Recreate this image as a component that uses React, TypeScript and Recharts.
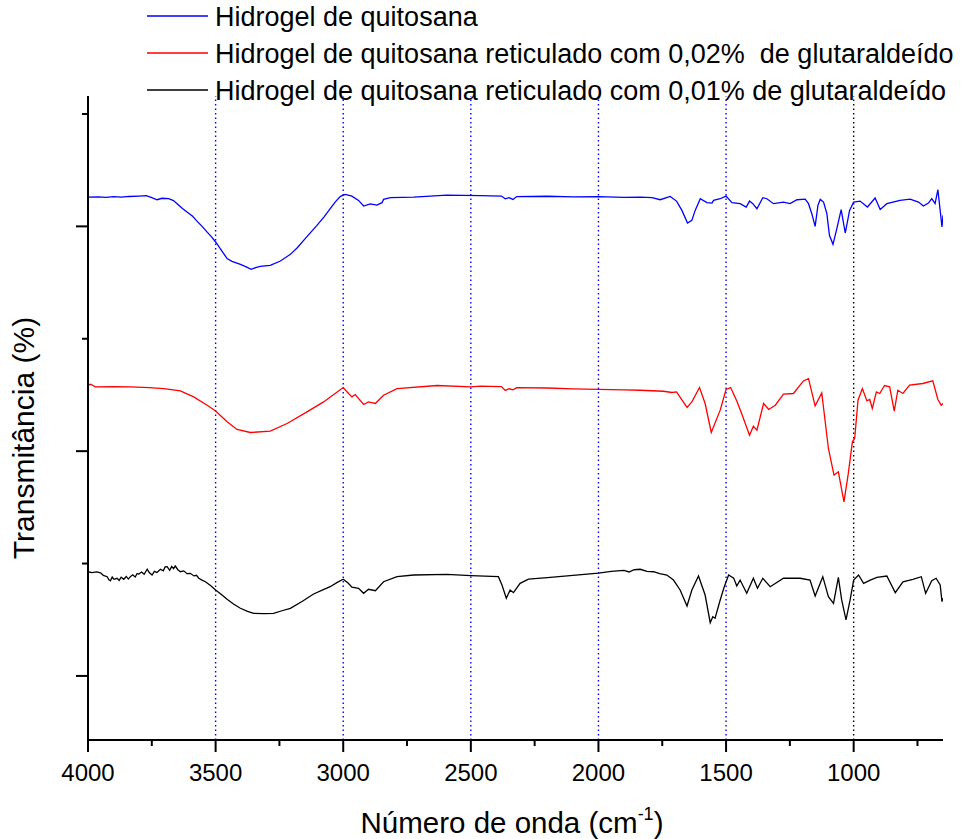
import { Line, LineChart, ReferenceLine, XAxis, YAxis } from "recharts";

// FTIR spectra (arbitrary offset transmittance)
const seriesNames = [
  "Hidrogel de quitosana",
  "Hidrogel de quitosana reticulado com 0,02%  de glutaraldeído",
  "Hidrogel de quitosana reticulado com 0,01% de glutaraldeído",
];
const seriesColors = ["#0000ff", "#ff0000", "#000000"];

const blueWn = [
  4000, 3960, 3930, 3900, 3870, 3840, 3800, 3772, 3750, 3729, 3710, 3684, 3665, 3651, 3630, 3612, 3590, 3573, 3553,
  3533, 3515, 3500, 3475, 3455, 3436, 3403, 3380, 3361, 3340, 3325, 3286, 3246, 3207, 3180, 3155, 3130, 3103, 3075,
  3051, 3030, 3011, 2992, 2966, 2940, 2920, 2894, 2868, 2848, 2842, 2815, 2724, 2594, 2463, 2380, 2365, 2350, 2335,
  2320, 2200, 2100, 2000, 1900, 1836, 1790, 1758, 1719, 1694, 1673, 1651, 1634, 1621, 1601, 1575, 1555, 1549, 1523,
  1500, 1477, 1445, 1421, 1408, 1395, 1379, 1356, 1340, 1314, 1275, 1249, 1222, 1190, 1177, 1164, 1151, 1140, 1131,
  1118, 1105, 1095, 1081, 1066, 1049, 1033, 1016, 1000, 975, 946, 916, 896, 870, 818, 779, 746, 727, 707, 694, 681,
  670, 664, 654, 650,
];
const blueT = [
  52.61, 52.63, 52.58, 52.65, 52.6, 52.66, 52.7, 52.73, 52.55, 52.37, 52.5, 52.46, 52.3, 52.02, 51.6, 51.27, 50.9,
  50.47, 50.0, 49.49, 49.05, 48.61, 47.8, 47.13, 46.89, 46.62, 46.4, 46.18, 46.35, 46.45, 46.53, 46.92, 47.51, 48.1,
  48.76, 49.4, 50.09, 50.85, 51.57, 52.2, 52.67, 52.85, 52.69, 52.31, 51.81, 52.0, 51.89, 52.11, 52.4, 52.55, 52.61,
  52.78, 52.73, 52.7, 52.45, 52.55, 52.4, 52.65, 52.68, 52.62, 52.65, 52.58, 52.61, 52.55, 52.37, 52.67, 52.25, 51.42,
  50.29, 50.53, 51.42, 52.46, 52.11, 52.07, 52.31, 52.46, 52.69, 52.11, 52.02, 51.72, 52.25, 52.02, 51.57, 52.55,
  52.46, 52.02, 52.16, 52.02, 52.37, 52.43, 52.02, 51.13, 50.0, 51.87, 52.4, 52.16, 51.13, 49.2, 48.4, 49.8, 51.49,
  49.41, 51.42, 52.16, 52.25, 51.72, 52.52, 51.51, 52.02, 52.31, 52.43, 52.16, 51.81, 52.07, 52.46, 52.02, 53.26,
  52.02, 49.94, 50.98,
];

const redWn = [
  4000, 3990, 3971, 3900, 3834, 3760, 3703, 3638, 3586, 3533, 3500, 3455, 3416, 3364, 3286, 3220, 3142, 3077, 3000,
  2979, 2966, 2953, 2920, 2901, 2874, 2842, 2789, 2632, 2500, 2463, 2380, 2365, 2350, 2335, 2320, 2200, 2100, 2000,
  1900, 1836, 1745, 1712, 1694, 1653, 1634, 1604, 1582, 1558, 1523, 1500, 1482, 1458, 1439, 1408, 1393, 1379, 1353,
  1333, 1307, 1275, 1236, 1197, 1177, 1151, 1125, 1099, 1077, 1060, 1038, 1021, 1005, 996, 983, 966, 948, 937, 927,
  911, 898, 879, 859, 841, 827, 807, 781, 729, 690, 670, 657, 650,
];
const redT = [
  35.87, 35.95, 35.72, 35.74, 35.72, 35.65, 35.57, 35.36, 34.83, 34.09, 33.58, 32.61, 31.93, 31.66, 31.78, 32.46,
  33.49, 34.38, 35.66, 35.13, 34.83, 35.04, 34.15, 34.38, 34.24, 34.98, 35.57, 35.84, 35.72, 35.78, 35.75, 35.4,
  35.55, 35.45, 35.65, 35.62, 35.55, 35.5, 35.45, 35.42, 35.33, 35.22, 35.27, 33.89, 34.38, 35.66, 34.24, 31.66,
  33.65, 35.49, 35.66, 34.47, 33.35, 31.42, 32.22, 31.87, 34.24, 33.71, 34.09, 35.07, 35.13, 36.25, 36.46, 34.03,
  35.18, 30.24, 27.87, 28.16, 25.49, 28.02, 30.83, 31.13, 34.53, 35.57, 34.47, 34.6, 33.8, 35.27, 35.13, 35.84, 35.72,
  33.56, 35.42, 35.13, 35.87, 36.02, 36.25, 34.6, 34.09, 34.24,
];

const blackWn = [
  4000, 3985, 3965, 3951, 3940, 3925, 3918, 3912, 3905, 3898, 3886, 3878, 3870, 3860, 3850, 3842, 3834, 3825, 3815,
  3808, 3801, 3790, 3780, 3768, 3760, 3749, 3740, 3730, 3716, 3705, 3698, 3690, 3680, 3672, 3665, 3658, 3648, 3638,
  3625, 3612, 3599, 3585, 3575, 3566, 3555, 3540, 3520, 3500, 3475, 3455, 3430, 3403, 3375, 3351, 3310, 3273, 3240,
  3207, 3160, 3116, 3080, 3051, 3025, 3000, 2980, 2966, 2940, 2920, 2901, 2874, 2842, 2789, 2724, 2594, 2500, 2392,
  2378, 2361, 2346, 2333, 2307, 2274, 2200, 2100, 2000, 1950, 1900, 1880, 1860, 1836, 1810, 1784, 1760, 1732, 1706,
  1680, 1653, 1634, 1608, 1582, 1562, 1552, 1543, 1523, 1507, 1490, 1470, 1458, 1445, 1419, 1393, 1377, 1356, 1327,
  1275, 1210, 1171, 1151, 1121, 1099, 1079, 1060, 1047, 1030, 1014, 1000, 981, 961, 935, 909, 870, 837, 807, 768, 735,
  718, 694, 677, 661, 654, 650,
];
const blackT = [
  19.27, 19.2, 19.25, 19.18, 18.95, 18.83, 18.55, 18.47, 18.8, 18.6, 18.69, 18.5, 18.78, 18.6, 18.85, 18.62, 18.83,
  19.0, 18.8, 19.1, 19.07, 19.25, 19.05, 19.49, 19.2, 18.98, 19.3, 19.2, 19.49, 19.35, 19.7, 19.72, 19.4, 19.75, 19.55,
  19.78, 19.45, 19.27, 19.35, 19.1, 19.13, 18.9, 18.95, 18.69, 18.55, 18.38, 18.05, 17.65, 17.2, 16.82, 16.4, 16.02,
  15.75, 15.57, 15.55, 15.57, 15.8, 16.02, 16.65, 17.29, 17.65, 17.94, 18.3, 18.6, 18.25, 17.89, 17.8, 17.35, 17.71,
  17.58, 18.38, 18.83, 18.98, 19.04, 18.92, 18.83, 18.09, 16.91, 17.65, 17.41, 18.24, 18.62, 18.75, 18.95, 19.15, 19.3,
  19.4, 19.25, 19.45, 19.49, 19.3, 19.27, 19.1, 18.98, 18.53, 17.65, 16.22, 17.65, 18.89, 17.2, 14.74, 15.27, 15.13,
  16.76, 17.94, 18.98, 18.69, 18.0, 18.53, 17.35, 18.69, 17.8, 18.69, 17.94, 18.69, 18.69, 18.53, 17.11, 18.83, 17.05,
  16.46, 18.77, 16.76, 14.98, 16.76, 18.53, 18.98, 18.24, 18.53, 18.77, 18.89, 17.41, 18.38, 18.6, 18.83, 17.35,
  18.47, 18.69, 18.09, 16.61, 16.91,
];

const xTicks = [4000, 3750, 3500, 3250, 3000, 2750, 2500, 2250, 2000, 1750, 1500, 1250, 1000, 750];
const yTicks = [10, 20, 30, 40, 50, 60];
const blueGuides = [3500, 3000, 2500, 2000, 1500];
const blackGuides = [1000];

const toRows = (wn: number[], t: number[]) => wn.map((w, i) => ({ wn: w, t: t[i] }));
const series = [toRows(blueWn, blueT), toRows(redWn, redT), toRows(blackWn, blackT)];

const FONT = '"Liberation Sans", Arial, Helvetica, sans-serif';

const XTick = (props: any) => {
  const { x, y, payload } = props;
  const major = payload.value % 500 === 0;
  return (
    <g>
      <line x1={x} x2={x} y1={y} y2={y + (major ? 12 : 6)} stroke="#000" strokeWidth={2} />
      {major && (
        <text x={x} y={y + 41} textAnchor="middle" fontSize={24} fontFamily={FONT} fill="#000">
          {payload.value}
        </text>
      )}
    </g>
  );
};

const YTick = (props: any) => {
  const { x, y, payload } = props;
  const major = payload.value % 20 === 10;
  return <line x1={x} x2={x - (major ? 12 : 6)} y1={y} y2={y} stroke="#000" strokeWidth={2} />;
};

export default function App() {
  return (
    <div style={{ position: "absolute", left: 0, top: 0, width: 961, height: 839, background: "#fff" }}>
      <LineChart width={961} height={839} margin={{ top: 96, right: 18, left: 0, bottom: 0 }}>
        <XAxis
          type="number"
          dataKey="wn"
          domain={[650, 4000]}
          reversed
          allowDataOverflow
          ticks={xTicks}
          interval={0}
          tickSize={0}
          tickMargin={0}
          tickLine={false}
          height={99}
          axisLine={{ stroke: "#000", strokeWidth: 2 }}
          tick={<XTick />}
        />
        <YAxis
          type="number"
          domain={[4.3, 61.6]}
          allowDataOverflow
          ticks={yTicks}
          interval={0}
          tickSize={0}
          tickMargin={0}
          tickLine={false}
          width={88}
          axisLine={{ stroke: "#000", strokeWidth: 2 }}
          tick={<YTick />}
        />
        {blueGuides.map((g) => (
          <ReferenceLine key={g} x={g} stroke="#0000ff" strokeOpacity={1} strokeDasharray="1.5 3" strokeWidth={1.4} />
        ))}
        {blackGuides.map((g) => (
          <ReferenceLine key={g} x={g} stroke="#000000" strokeOpacity={1} strokeDasharray="1.5 3" strokeWidth={1.4} />
        ))}
        {series.map((data, i) => (
          <Line
            key={seriesNames[i]}
            data={data}
            dataKey="t"
            type="linear"
            stroke={seriesColors[i]}
            strokeWidth={1.3}
            dot={false}
            isAnimationActive={false}
          />
        ))}
      </LineChart>
      <svg
        width={961}
        height={839}
        style={{ position: "absolute", left: 0, top: 0, pointerEvents: "none" }}
        fontFamily={FONT}
      >
        {seriesNames.map((name, i) => {
          const cy = 16 + i * 37;
          return (
            <g key={name}>
              <line x1={147} x2={208} y1={cy} y2={cy} stroke={seriesColors[i]} strokeWidth={1.3} />
              <text x={215} y={cy + 9.5} fontSize={27} fill="#000" style={{ whiteSpace: "pre" }}>
                {name}
              </text>
            </g>
          );
        })}
        <text x={512} y={833} textAnchor="middle" fontSize={29.5} fill="#000">
          Número de onda (cm
          <tspan dy={-13} fontSize={18}>
            -1
          </tspan>
          <tspan dy={13}>)</tspan>
        </text>
        <text transform="translate(34,438) rotate(-90)" textAnchor="middle" fontSize={30} fill="#000">
          Transmitância (%)
        </text>
      </svg>
    </div>
  );
}
